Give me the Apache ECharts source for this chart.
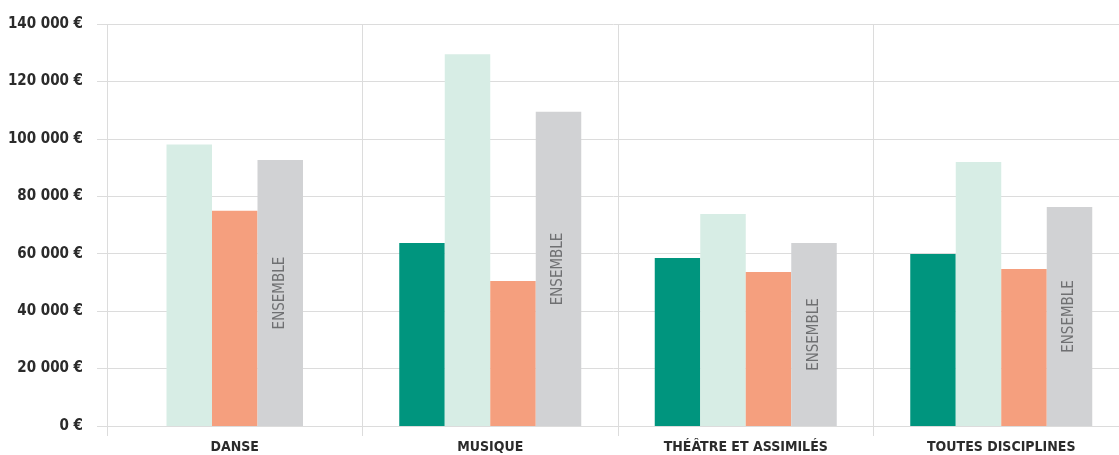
<!DOCTYPE html>
<html>
<head>
<meta charset="utf-8">
<script src="https://cdn.jsdelivr.net/npm/echarts@6/dist/echarts.min.js"></script>
<style>
html,body{margin:0;padding:0;background:#fff;}
#c{width:1119px;height:455px;}
</style>
</head>
<body>
<div id="c"></div>
<script>
// Data
const categories = ['DANSE', 'MUSIQUE', 'THÉÂTRE ET ASSIMILÉS', 'TOUTES DISCIPLINES'];
const serieTeal   = [null, 63700, 58500, 59900];
const serieMint   = [98000, 129500, 73800, 91900];
const serieSalmon = [75000, 50500, 53600, 54700];
const serieGrey   = [92600, 109400, 63700, 76300];
const greyLabel = 'ENSEMBLE';
const yTicks = [0, 20000, 40000, 60000, 80000, 100000, 120000, 140000];

const FONT = "'DejaVu Sans Condensed', 'Liberation Sans Narrow', 'Roboto', sans-serif";
const colors = { teal: '#00957e', mint: '#d7ede5', salmon: '#f59f7e', grey: '#d1d2d4' };
const gridColor = '#dcdcdc';

// Categories where the first series is missing use a 3-bar centred group
const full = categories.map((c, i) => serieTeal[i] != null);
const pick = (arr, useFull) => arr.map((v, i) => (full[i] === useFull ? v : null));

const greyLabelStyle = {
  show: true, position: 'inside', rotate: 90, formatter: greyLabel,
  color: '#6f7072', fontSize: 15, fontFamily: FONT
};

function mk(name, data, color, axis, label) {
  return {
    name: name, type: 'bar', xAxisIndex: axis, data: data,
    barWidth: 45.5, barGap: '0%',
    itemStyle: { color: color },
    label: label || { show: false },
    silent: true
  };
}

const series = [
  mk('s1', pick(serieTeal, true), colors.teal, 0),
  mk('s2', pick(serieMint, true), colors.mint, 0),
  mk('s3', pick(serieSalmon, true), colors.salmon, 0),
  mk('s4', pick(serieGrey, true), colors.grey, 0, greyLabelStyle),
  mk('s2b', pick(serieMint, false), colors.mint, 1),
  mk('s3b', pick(serieSalmon, false), colors.salmon, 1),
  mk('s4b', pick(serieGrey, false), colors.grey, 1, greyLabelStyle)
];

const chart = echarts.init(document.getElementById('c'), null, { renderer: 'canvas' });
chart.setOption({
  animation: false,
  textStyle: { fontFamily: FONT },
  grid: { left: 107, width: 1022, top: 24, bottom: 29, containLabel: false, outerBoundsMode: 'none' },
  xAxis: [
    {
      type: 'category', data: categories,
      axisLine: { show: true, lineStyle: { color: gridColor, width: 1 } },
      axisTick: { show: true, length: 10, lineStyle: { color: gridColor } },
      splitLine: { show: true, lineStyle: { color: gridColor, width: 1 } },
      axisLabel: { margin: 14, color: '#2b2b2b', fontSize: 14, fontWeight: 'bold', fontFamily: FONT }
    },
    {
      type: 'category', data: categories, show: false
    }
  ],
  yAxis: {
    type: 'value', min: yTicks[0], max: yTicks[yTicks.length - 1], interval: yTicks[1] - yTicks[0],
    axisLine: { show: false },
    axisTick: { show: true, length: 10, lineStyle: { color: gridColor } },
    splitLine: { show: true, lineStyle: { color: gridColor, width: 1 } },
    axisLabel: {
      margin: 24, color: '#2b2b2b', fontSize: 15, fontWeight: 'bold', fontFamily: FONT,
      formatter: v => String(v).replace(/\B(?=(\d{3})+(?!\d))/g, ' ') + ' €'
    }
  },
  series: series
});
</script>
</body>
</html>
